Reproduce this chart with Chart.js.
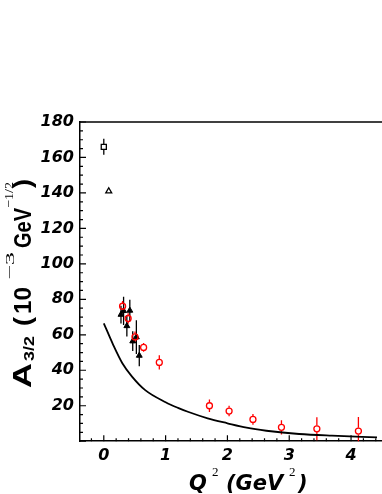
<!DOCTYPE html>
<html><head><meta charset="utf-8">
<script src="https://cdn.jsdelivr.net/npm/chart.js@4.4.0/dist/chart.umd.min.js"></script>
<style>html,body{margin:0;padding:0;background:#fff;overflow:hidden;width:382px;height:494px}
#wrap{width:388px;height:494px;position:relative}</style>
</head><body><div id="wrap"><canvas id="c" width="388" height="494"></canvas></div>
<script>
const X_TICKS = [0, 1, 2, 3, 4];
const Y_TICKS = [20, 40, 60, 80, 100, 120, 140, 160, 180];

const SQUARE_Q = [0];
const SQUARE_A = [166];
const SQUARE_ERR = [4.5];

const OPEN_TRI_Q = [0.08];
const OPEN_TRI_A = [141];

const TRI_Q = [0.278, 0.320, 0.421, 0.373, 0.468, 0.527, 0.574];
const TRI_A = [71.4, 73.5, 73.7, 65.0, 56.4, 58.7, 48.3];
const TRI_ERR = [5, 8, 6, 6, 5.6, 9.5, 6];

const CIRC_Q = [0.304, 0.394, 0.505, 0.644, 0.898, 1.709, 2.027, 2.413, 2.874, 3.447, 4.119];
const CIRC_A = [76.1, 69.2, 58.8, 52.9, 44.4, 20, 17, 12.3, 7.8, 7.0, 5.7];
const CIRC_ERR = [3, 3, 3, 2.5, 4, 3.5, 3, 3, 4, 6.5, 8];

const CURVE_Q = [0, 0.15, 0.3, 0.46, 0.67, 1.0, 1.2, 1.36, 1.68, 2.0, 2.31, 2.63, 3.16, 3.69, 4.42];
const CURVE_A = [66.5, 54.5, 44, 36.3, 28.8, 22, 18.8, 16.6, 12.9, 10.1, 7.6, 5.9, 4.05, 3.1, 2.2];

const pts = (xs, ys) => xs.map((x, i) => ({x: x, y: ys[i]}));

const errorBars = {
  id: 'errorBars',
  beforeDatasetsDraw(chart) {
    const ctx = chart.ctx, y = chart.scales.y, ca = chart.chartArea;
    ctx.save();
    ctx.beginPath(); ctx.rect(ca.left, ca.top, ca.right - ca.left, ca.bottom - ca.top); ctx.clip();
    chart.data.datasets.forEach((ds, di) => {
      if (!ds.errors) return;
      const meta = chart.getDatasetMeta(di);
      ctx.strokeStyle = ds.borderColor; ctx.lineWidth = 1.3;
      meta.data.forEach((el, i) => {
        const v = ds.data[i].y, e = ds.errors[i];
        const top = y.getPixelForValue(v + e), bot = y.getPixelForValue(v - e);
        const g = ds.errGap || 0;
        ctx.beginPath();
        ctx.moveTo(el.x, top); ctx.lineTo(el.x, el.y - g);
        ctx.moveTo(el.x, el.y + g); ctx.lineTo(el.x, bot);
        ctx.stroke();
      });
    });
    ctx.restore();
  }
};

const frame = {
  id: 'frame',
  afterDraw(chart) {
    const ctx = chart.ctx, ca = chart.chartArea, xs = chart.scales.x, ys = chart.scales.y;
    ctx.save();
    ctx.strokeStyle = '#000'; ctx.lineWidth = 1.5;
    ctx.beginPath(); ctx.moveTo(ca.left, ca.top); ctx.lineTo(ca.right, ca.top); ctx.stroke();
    ctx.lineWidth = 1.2;
    ctx.beginPath();
    for (let v = 0; v <= 180; v += 5) {
      const p = ys.getPixelForValue(v);
      const L = (v % 20 === 0) ? 6 : 3;
      ctx.moveTo(ca.left, p); ctx.lineTo(ca.left + L, p);
    }
    for (let k = -1; k <= 22; k++) {
      const v = k * 0.2;
      const p = xs.getPixelForValue(v);
      if (p < ca.left || p > ca.right) continue;
      const L = (k % 5 === 0) ? 6 : 3;
      ctx.moveTo(p, ca.bottom); ctx.lineTo(p, ca.bottom - L);
    }
    ctx.stroke();

    // X title
    ctx.fillStyle = '#000';
    ctx.textBaseline = 'alphabetic';
    const big = 'italic bold 21px "DejaVu Sans"';
    const sup = '13px "Liberation Serif"';
    ctx.font = big; ctx.fillText('Q', 189, 490);
    ctx.font = sup; ctx.fillText('2', 212, 476);
    ctx.font = big; ctx.fillText('(GeV', 226, 490);
    ctx.font = sup; ctx.fillText('2', 289, 476);
    ctx.font = big; ctx.fillText(')', 298, 490);

    // Y title (rotated)
    ctx.save();
    ctx.translate(30.5, 390);
    ctx.rotate(-Math.PI / 2);
    const piece = (t, font, start, len, base) => {
      ctx.save(); ctx.font = font;
      const w = ctx.measureText(t).width;
      ctx.translate(start, base); ctx.scale(len / w, 1);
      ctx.fillText(t, 0, 0); ctx.restore();
    };
    const yb = 'bold 23px "Liberation Sans"';
    piece('A', 'bold 25px "Liberation Sans"', 2, 25, 0);
    piece('3/2', 'bold 15px "Liberation Sans"', 29, 25, 3);
    piece('(', yb, 64, 9, 0);
    piece('10', yb, 76, 27, 0);
    piece('\u22123', '13px "Liberation Serif"', 110, 28, -17);
    piece('GeV', yb, 142, 40, 0);
    piece('\u22121/2', '13px "Liberation Serif"', 182, 26, -18);
    piece(')', yb, 202, 9, 0);
    ctx.restore();
    ctx.restore();
  }
};

new Chart(document.getElementById('c'), {
  type: 'scatter',
  data: {
    datasets: [
      {label: 'curve', type: 'line', data: pts(CURVE_Q, CURVE_A), borderColor: '#000', borderWidth: 1.8,
       pointRadius: 0, cubicInterpolationMode: 'monotone', fill: false, order: 5},
      {label: 'square', data: pts(SQUARE_Q, SQUARE_A), errors: SQUARE_ERR, errGap: 2.5, pointStyle: 'rect',
       pointRadius: 3.6, backgroundColor: '#fff', borderColor: '#000', borderWidth: 1.3, order: 1},
      {label: 'opentri', data: pts(OPEN_TRI_Q, OPEN_TRI_A), pointStyle: 'triangle',
       pointRadius: 3.4, backgroundColor: '#fff', borderColor: '#000', borderWidth: 1.3, order: 1},
      {label: 'tri', data: pts(TRI_Q, TRI_A), errors: TRI_ERR, pointStyle: 'triangle',
       pointRadius: 3.4, backgroundColor: '#000', borderColor: '#000', borderWidth: 1, order: 2},
      {label: 'circ', data: pts(CIRC_Q, CIRC_A), errors: CIRC_ERR, errGap: 3.3, pointStyle: 'circle',
       pointRadius: 3, backgroundColor: 'rgba(0,0,0,0)', borderColor: '#ff0000', borderWidth: 1.3, order: 0}
    ]
  },
  options: {
    responsive: false, animation: false, devicePixelRatio: 1,
    layout: {padding: {top: 122, left: 0, right: 0, bottom: 0}},
    plugins: {legend: {display: false}, tooltip: {enabled: false}},
    scales: {
      x: {type: 'linear', min: -0.385, max: 4.512,
          afterFit(s) { s.height = 52.8; },
          afterBuildTicks(s) { s.ticks = X_TICKS.map(v => ({value: v})); },
          grid: {display: false, drawTicks: false}, border: {display: true, color: '#000', width: 1.5},
          ticks: {padding: 5, color: '#000', maxRotation: 0, autoSkip: false,
                  font: {family: 'DejaVu Sans', size: 16, weight: 'bold', style: 'italic'}}},
      y: {type: 'linear', min: 0, max: 180,
          afterFit(s) { s.width = 80; },
          afterBuildTicks(s) { s.ticks = Y_TICKS.map(v => ({value: v})); },
          grid: {display: false, drawTicks: false}, border: {display: true, color: '#000', width: 1.5},
          ticks: {padding: 6, color: '#000', autoSkip: false,
                  font: {family: 'DejaVu Sans', size: 16, weight: 'bold', style: 'italic'}}}
    }
  },
  plugins: [errorBars, frame]
});
</script></body></html>
